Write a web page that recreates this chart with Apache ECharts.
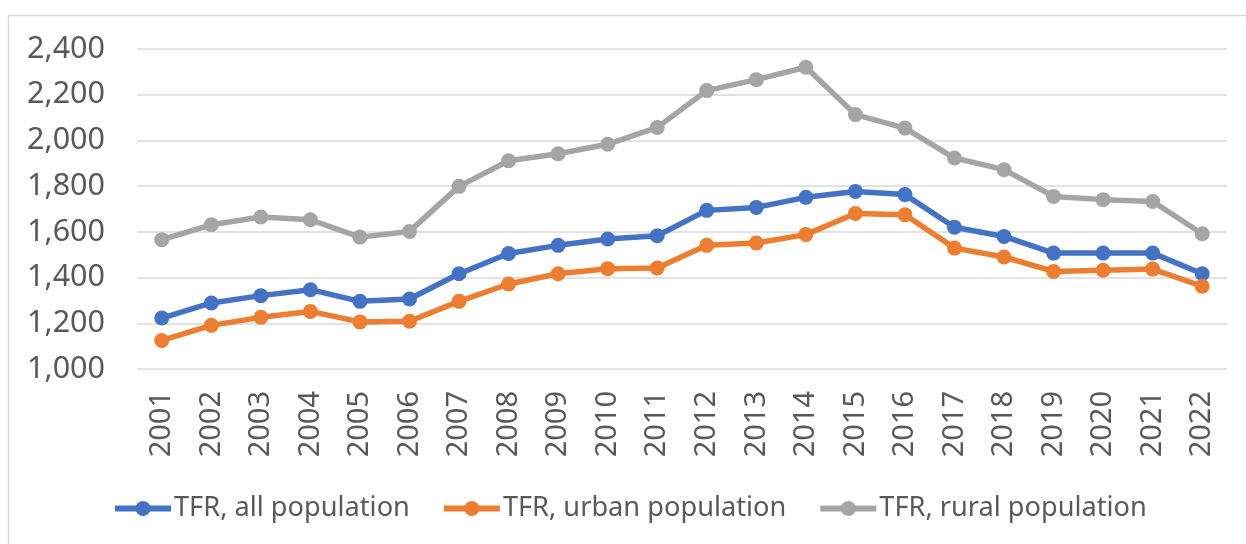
<!DOCTYPE html>
<html>
<head>
<meta charset="utf-8">
<script src="https://cdn.jsdelivr.net/npm/echarts@6/dist/echarts.min.js"></script>
<style>
  html, body { margin: 0; padding: 0; background: #fff; }
  #chart { width: 1246px; height: 544px; }
</style>
</head>
<body>
<div id="chart"></div>
<script>
const years = ["2001", "2002", "2003", "2004", "2005", "2006", "2007", "2008", "2009", "2010", "2011",
  "2012", "2013", "2014", "2015", "2016", "2017", "2018", "2019", "2020", "2021", "2022"];
const tfrAll = [1223, 1289, 1321, 1347, 1296, 1306, 1417, 1505, 1541, 1569, 1583,
  1694, 1707, 1751, 1777, 1763, 1620, 1580, 1507, 1507, 1507, 1417];
const tfrUrban = [1125, 1191, 1226, 1252, 1206, 1209, 1296, 1372, 1417, 1439, 1442,
  1541, 1551, 1588, 1680, 1675, 1529, 1490, 1427, 1432, 1437, 1362];
const tfrRural = [1566, 1631, 1665, 1653, 1577, 1602, 1799, 1911, 1942, 1983, 2057,
  2218, 2266, 2320, 2113, 2054, 1923, 1872, 1755, 1741, 1733, 1592];
const seriesNames = ["TFR, all population", "TFR, urban population", "TFR, rural population"];
const colors = ["#4472C4", "#ED7D31", "#A5A5A5"];

const font = "Noto Sans";

function makeSeries(name, data) {
  return {
    name: name,
    type: "line",
    data: data,
    symbol: "circle",
    symbolSize: 15,
    lineStyle: { width: 5.5 },
  };
}

let myChart = echarts.init(document.getElementById("chart"));
let option = {
  animation: false,
  color: colors,
  textStyle: { fontFamily: font },
  graphic: [
    {
      type: "rect",
      shape: { x: 8.5, y: 15.5, width: 1300, height: 600 },
      style: { fill: "none", stroke: "#d9d9d9", lineWidth: 1.5 },
      silent: true,
    },
  ],
  grid: { left: 137, right: 19, top: 49, bottom: 175 },
  legend: {
    data: seriesNames,
    left: 107,
    top: 490,
    itemWidth: 56,
    itemHeight: 19,
    itemGap: 31,
    lineStyle: { width: 6 },
    textStyle: { fontFamily: font, fontSize: 27.2, color: "#595959", padding: [0, 0, 0, -2] },
  },
  xAxis: {
    type: "category",
    data: years,
    boundaryGap: true,
    axisLine: { show: false },
    axisTick: { show: false },
    axisLabel: {
      rotate: 90,
      margin: 22,
      fontFamily: font,
      fontSize: 29,
      color: "#595959",
    },
  },
  yAxis: {
    type: "value",
    min: 1000,
    max: 2400,
    interval: 200,
    axisLine: { show: false },
    axisTick: { show: false },
    splitLine: { lineStyle: { color: "#d9d9d9", width: 1.5 } },
    axisLabel: {
      margin: 32,
      fontFamily: font,
      fontSize: 30.5,
      color: "#595959",
      formatter: (value) => value.toLocaleString("en-US"),
    },
  },
  series: [
    makeSeries(seriesNames[0], tfrAll),
    makeSeries(seriesNames[1], tfrUrban),
    makeSeries(seriesNames[2], tfrRural),
  ],
};
myChart.setOption(option);
</script>
</body>
</html>
